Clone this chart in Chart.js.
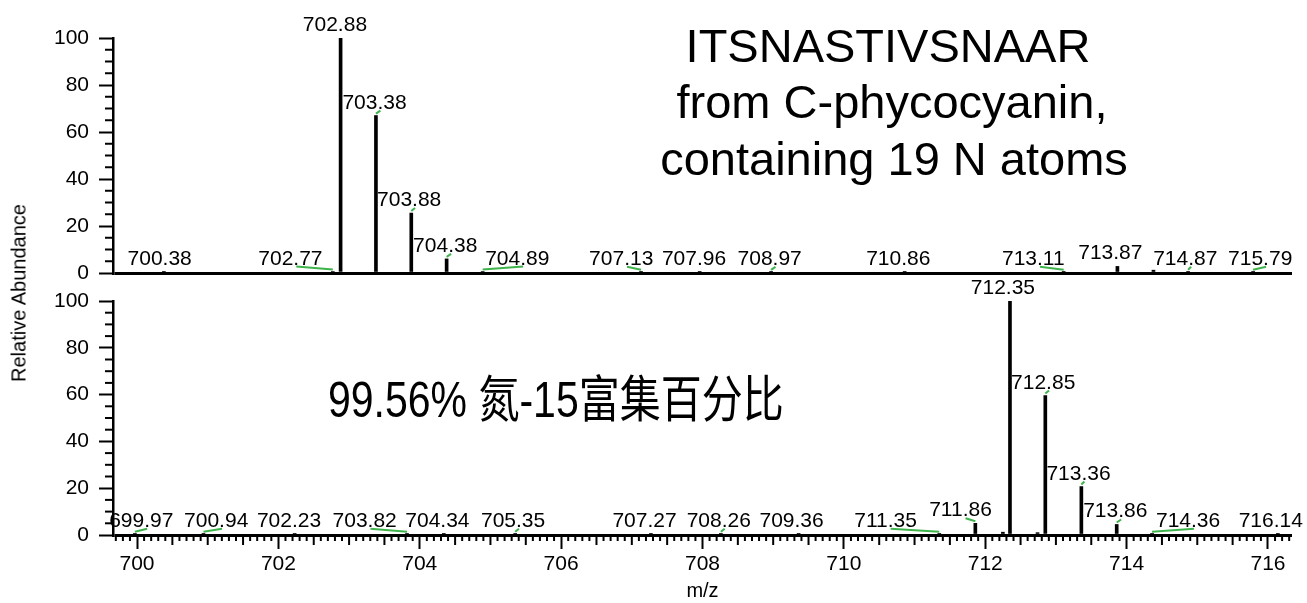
<!DOCTYPE html>
<html>
<head>
<meta charset="utf-8">
<script src="https://cdn.jsdelivr.net/npm/chart.js@4.4.1/dist/chart.umd.min.js"></script>
<style>
  html, body { margin: 0; padding: 0; background: #fff; }
  #wrap { position: relative; width: 1307px; height: 603px; overflow: hidden; font-family: "Liberation Sans", Arial, sans-serif; }
  #topChart { position: absolute; left: 0; top: 0; }
  #bottomChart { position: absolute; left: 0; top: 275px; }
  #yTitle {
    position: absolute; left: 19px; top: 293px;
    transform: translate(-50%, -50%) rotate(-90deg);
    font-size: 20px; white-space: nowrap; color: #000;
  }
</style>
</head>
<body>
<div id="wrap">
  <canvas id="topChart" width="1307" height="300"></canvas>
  <canvas id="bottomChart" width="1307" height="328"></canvas>
  <div id="yTitle">Relative Abundance</div>
</div>
<script>
const MZ_MIN = 699.66;
const MZ_MAX = 716.34;
const X_TICKS = [700, 702, 704, 706, 708, 710, 712, 714, 716];
const Y_TICKS = [0, 20, 40, 60, 80, 100];

// unlabelled (natural abundance) peptide
const topMz = [700.38, 702.77, 702.88, 703.38, 703.88, 704.38, 704.89, 707.13, 707.96, 708.97, 710.86, 713.11, 713.87, 714.38, 714.87, 715.79];
const topIntensity = [0.5, 0.6, 100, 67, 25.5, 6, 0.6, 0.5, 0.4, 0.5, 0.4, 0.5, 2.8, 1.2, 0.5, 0.5];
// m/z where each label is centred (null = no label)
const topLabelAt = [700.32, 702.17, 702.8, 703.36, 703.85, 704.36, 705.38, 706.85, 707.88, 708.95, 710.77, 712.68, 713.77, null, 714.83, 715.89];
const topLeaders = ["702.77", "703.38", "703.88", "704.38", "704.89", "707.13", "708.97", "713.11", "714.87", "715.79"];

// 15N labelled peptide
const bottomMz = [699.97, 700.94, 702.23, 703.82, 704.34, 705.35, 707.27, 708.26, 709.36, 711.35, 711.86, 712.25, 712.35, 712.74, 712.85, 713.36, 713.86, 714.36, 716.14];
const bottomIntensity = [0.5, 0.5, 0.4, 0.5, 0.4, 0.5, 0.4, 0.5, 0.4, 0.5, 5, 1.2, 100, 1.0, 59.6, 20.7, 4.5, 0.5, 0.4];
const bottomLabelAt = [700.06, 701.12, 702.15, 703.22, 704.25, 705.32, 707.18, 708.23, 709.26, 710.59, 711.65, null, 712.25, null, 712.82, 713.32, 713.84, 714.87, 716.04];
const bottomLeaders = ["699.97", "700.94", "703.82", "705.35", "708.26", "711.35", "711.86", "712.85", "713.36", "713.86", "714.36"];

const FONT = '"Liberation Sans", Arial, sans-serif';
const TICK_FONT = { family: FONT, size: 21 };
const LEADER_COLOR = "#3fb34b";

function strokeLine(ctx, x1, y1, x2, y2) {
  ctx.beginPath();
  ctx.moveTo(x1, y1);
  ctx.lineTo(x2, y2);
  ctx.stroke();
}

const spectrumExtras = {
  id: "spectrumExtras",
  afterDraw(chart, args, opts) {
    const { ctx } = chart;
    const xs = chart.scales.x;
    const ys = chart.scales.y;
    ctx.save();
    ctx.strokeStyle = "#000";
    ctx.lineWidth = 2;

    // minor y ticks every 5
    for (let v = 0; v <= 100; v += 5) {
      if (v % 20 === 0) continue;
      const py = ys.getPixelForValue(v);
      strokeLine(ctx, ys.right - 8, py, ys.right, py);
    }

    // minor x ticks every 0.1 / 0.5
    if (opts.xMinor) {
      for (let k = Math.ceil(MZ_MIN * 10); k <= Math.floor(MZ_MAX * 10); k++) {
        if (k % 20 === 0) continue;
        const len = k % 5 === 0 ? 10 : 6;
        const px = xs.getPixelForValue(k / 10);
        strokeLine(ctx, px, xs.top, px, xs.top + len);
      }
    }

    // peak labels with green leader lines
    ctx.font = `21px ${FONT}`;
    ctx.textAlign = "center";
    ctx.textBaseline = "alphabetic";
    ctx.fillStyle = "#000";
    opts.mz.forEach((m, i) => {
      const at = opts.labelAt[i];
      if (at === null) return;
      const text = m.toFixed(2);
      const peakX = xs.getPixelForValue(m);
      const peakTop = ys.getPixelForValue(opts.intensity[i]);
      const cx = xs.getPixelForValue(at);
      const base = peakTop - 7;
      if (opts.leaders.includes(text)) {
        const w = ctx.measureText(text).width;
        const dotX = cx - w / 2 + ctx.measureText(text.split(".")[0]).width + ctx.measureText(".").width / 2;
        ctx.strokeStyle = LEADER_COLOR;
        strokeLine(ctx, peakX, peakTop - 2, dotX, base + 2);
      }
      ctx.fillText(text, cx, base);
    });

    // free text notes
    (opts.notes || []).forEach((n) => {
      ctx.save();
      ctx.font = n.font;
      ctx.textAlign = n.align || "center";
      ctx.translate(n.x, n.y);
      ctx.scale(1, n.scaleY || 1);
      ctx.fillText(n.text, 0, 0);
      ctx.restore();
    });
    ctx.restore();
  },
};

function makeSpectrum(canvasId, mz, intensity, extras, padding, showX) {
  return new Chart(document.getElementById(canvasId), {
    type: "bar",
    data: {
      datasets: [
        {
          data: mz.map((m, i) => ({ x: m, y: intensity[i] })),
          backgroundColor: "#000",
          borderWidth: 0,
          barThickness: 3,
        },
      ],
    },
    options: {
      responsive: false,
      animation: false,
      events: [],
      layout: { padding },
      plugins: {
        legend: { display: false },
        tooltip: { enabled: false },
        spectrumExtras: extras,
      },
      scales: {
        x: {
          type: "linear",
          min: MZ_MIN,
          max: MZ_MAX,
          offset: false,
          display: showX,
          afterBuildTicks: (s) => {
            s.ticks = X_TICKS.map((v) => ({ value: v }));
          },
          afterFit: (s) => {
            s.height = showX ? 68 : 0;
          },
          border: { display: false },
          grid: { offset: false, drawOnChartArea: false, tickLength: 14, tickWidth: 2, tickColor: "#000" },
          ticks: { color: "#000", font: TICK_FONT, padding: 3, maxRotation: 0, autoSkip: false },
          title: { display: true, text: "m/z", color: "#000", font: { family: FONT, size: 20 }, padding: 0 },
        },
        y: {
          min: 0,
          max: 100,
          afterBuildTicks: (s) => {
            s.ticks = Y_TICKS.map((v) => ({ value: v }));
          },
          afterFit: (s) => {
            s.width = 113;
          },
          border: { display: true, color: "#000", width: 2.5 },
          grid: {
            color: (c) => (c.tick && c.tick.value === 0 ? "#000" : "rgba(0,0,0,0)"),
            lineWidth: (c) => (c.tick && c.tick.value === 0 ? 3 : 1),
            tickLength: 14,
            tickWidth: 2,
            tickColor: "#000",
          },
          ticks: { color: "#000", font: TICK_FONT, padding: 10 },
        },
      },
    },
    plugins: [spectrumExtras],
  });
}

makeSpectrum(
  "topChart",
  topMz,
  topIntensity,
  {
    mz: topMz,
    intensity: topIntensity,
    labelAt: topLabelAt,
    leaders: topLeaders,
    xMinor: false,
    notes: [
      { text: "ITSNASTIVSNAAR", x: 888, y: 62, font: `47px ${FONT}` },
      { text: "from C-phycocyanin,", x: 892, y: 118, font: `47px ${FONT}` },
      { text: "containing 19 N atoms", x: 894, y: 175, font: `47px ${FONT}` },
    ],
  },
  { top: 38, right: 15, bottom: 27, left: 0 },
  false
);

makeSpectrum(
  "bottomChart",
  bottomMz,
  bottomIntensity,
  {
    mz: bottomMz,
    intensity: bottomIntensity,
    labelAt: bottomLabelAt,
    leaders: bottomLeaders,
    xMinor: true,
    notes: [
      {
        text: "99.56% 氮-15富集百分比",
        x: 328,
        y: 142,
        align: "left",
        scaleY: 1.22,
        font: `41px ${FONT}, "Noto Sans CJK SC"`,
      },
    ],
  },
  { top: 26, right: 15, bottom: 0, left: 0 },
  true
);
</script>
</body>
</html>
